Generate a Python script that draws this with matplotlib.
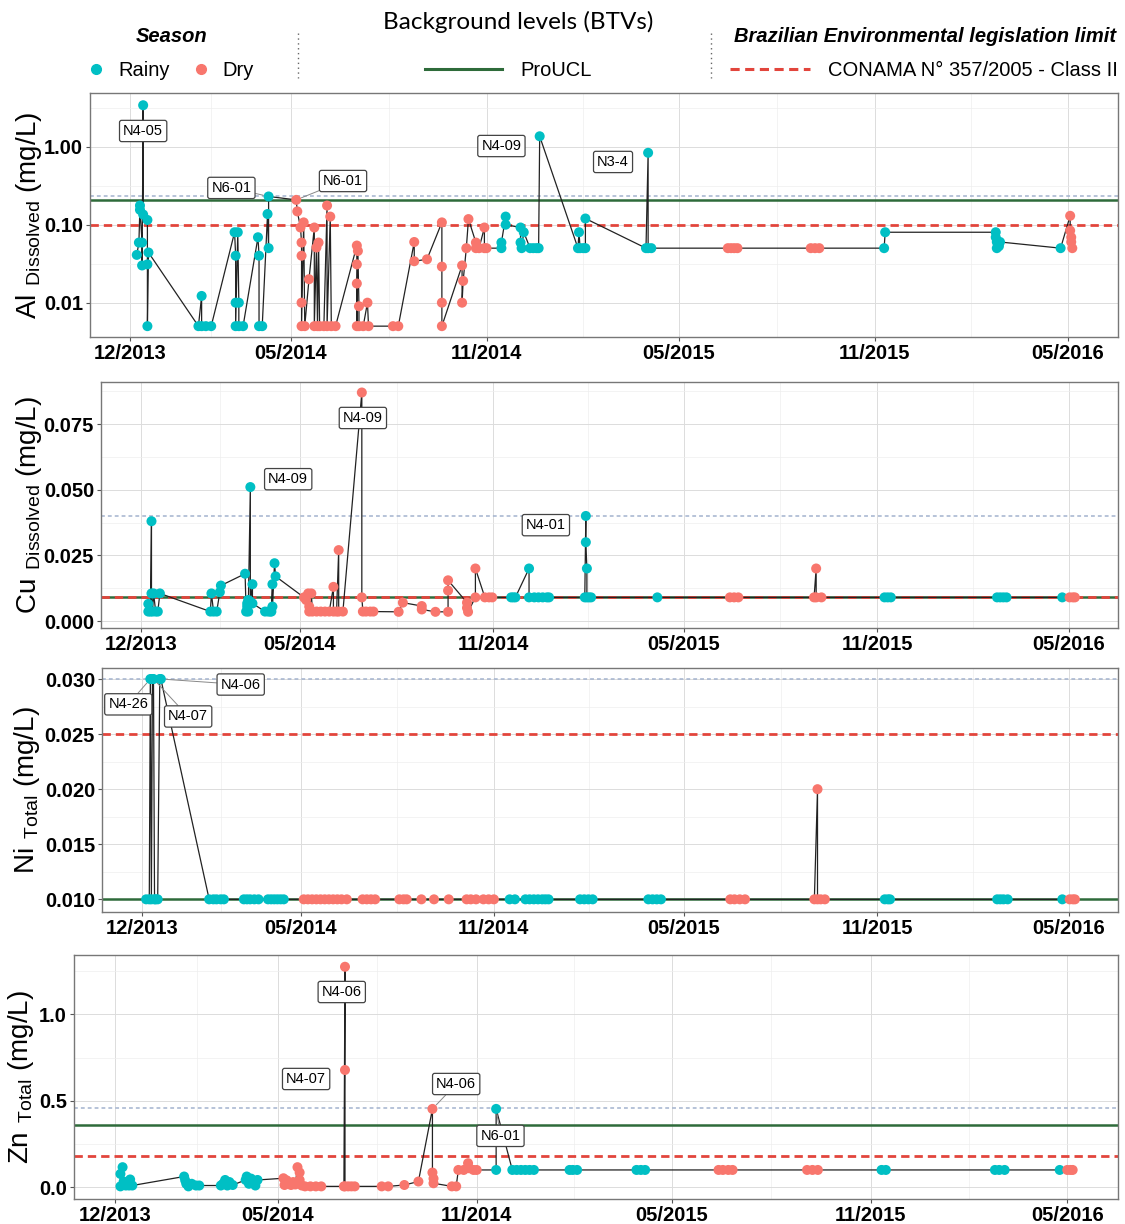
import numpy as np
import pandas as pd
import matplotlib
matplotlib.use("Agg")
import matplotlib.pyplot as plt
import matplotlib.dates as mdates
from matplotlib.lines import Line2D
from matplotlib.ticker import FixedLocator, NullFormatter

plt.rcParams['font.family'] = ['Liberation Sans', 'DejaVu Sans']
plt.rcParams['mathtext.default'] = 'regular'

RAINY = '#00BFC4'
DRY = '#F8766D'
GREEN = '#2E6B3A'
RED = '#E2453C'
BLUE = '#A3B3CE'

# ---------------- data ----------------
# Al dissolved (mg/L)
al_dates = ["2013-12-07", "2013-12-09", "2013-12-10", "2013-12-10", "2013-12-12", "2013-12-12",
            "2013-12-13", "2013-12-13", "2013-12-17", "2013-12-17", "2013-12-17", "2013-12-18",
            "2014-02-03", "2014-02-06", "2014-02-06", "2014-02-10", "2014-02-15",
            "2014-03-09", "2014-03-10", "2014-03-10", "2014-03-10", "2014-03-12", "2014-03-13",
            "2014-03-13", "2014-03-17", "2014-03-31", "2014-04-01", "2014-04-01", "2014-04-04",
            "2014-04-09", "2014-04-10", "2014-04-10",
            "2014-05-06", "2014-05-07", "2014-05-10", "2014-05-11", "2014-05-11", "2014-05-11",
            "2014-05-11", "2014-05-13", "2014-05-14", "2014-05-18", "2014-05-23", "2014-05-23",
            "2014-05-25", "2014-05-26", "2014-05-27", "2014-05-28", "2014-06-01", "2014-06-04",
            "2014-06-04", "2014-06-07", "2014-06-08", "2014-06-12", "2014-07-02", "2014-07-02",
            "2014-07-02", "2014-07-02", "2014-07-03", "2014-07-04", "2014-07-04", "2014-07-08",
            "2014-07-12", "2014-07-13", "2014-08-05", "2014-08-10", "2014-08-25", "2014-08-25",
            "2014-09-06", "2014-09-20", "2014-09-20", "2014-09-20", "2014-09-20", "2014-10-09",
            "2014-10-09", "2014-10-10", "2014-10-13", "2014-10-15", "2014-10-22", "2014-10-22",
            "2014-10-25", "2014-10-30", "2014-10-30", "2014-11-01",
            "2014-11-15", "2014-11-15", "2014-11-19", "2014-11-19", "2014-12-03", "2014-12-03",
            "2014-12-04", "2014-12-06", "2014-12-12", "2014-12-15", "2014-12-18", "2014-12-20",
            "2014-12-21", "2015-01-26", "2015-01-27", "2015-01-28", "2015-01-31", "2015-02-02",
            "2015-02-02", "2015-03-31", "2015-04-02", "2015-04-02", "2015-04-05",
            "2015-06-16", "2015-06-19", "2015-06-22", "2015-06-25", "2015-09-02", "2015-09-06",
            "2015-09-10",
            "2015-11-10", "2015-11-11", "2016-02-23", "2016-02-23", "2016-02-24", "2016-02-24",
            "2016-02-26", "2016-02-27", "2016-04-24",
            "2016-05-03", "2016-05-03", "2016-05-04", "2016-05-04", "2016-05-05"]
al_vals = [0.041, 0.059, 0.176, 0.155, 0.059, 0.030,
           3.40, 0.135, 0.115, 0.031, 0.005, 0.044,
           0.005, 0.0122, 0.005, 0.005, 0.005,
           0.080, 0.040, 0.010, 0.005, 0.080, 0.010,
           0.005, 0.005, 0.069, 0.040, 0.005, 0.005,
           0.137, 0.050, 0.230,
           0.208, 0.148, 0.092, 0.059, 0.040, 0.010,
           0.005, 0.107, 0.005, 0.020, 0.092, 0.005,
           0.051, 0.005, 0.059, 0.005, 0.005, 0.176,
           0.005, 0.127, 0.005, 0.005, 0.054, 0.031,
           0.0176, 0.005, 0.046, 0.009, 0.005, 0.005,
           0.010, 0.005, 0.005, 0.005, 0.060, 0.034,
           0.036, 0.107, 0.029, 0.010, 0.005, 0.030,
           0.010, 0.019, 0.050, 0.118, 0.059, 0.050,
           0.050, 0.092, 0.050, 0.050,
           0.050, 0.059, 0.127, 0.100, 0.092, 0.059,
           0.050, 0.080, 0.050, 0.050, 0.050, 0.050,
           1.36, 0.050, 0.080, 0.050, 0.050, 0.050,
           0.120, 0.050, 0.835, 0.050, 0.050,
           0.050, 0.050, 0.050, 0.050, 0.050, 0.050,
           0.050,
           0.050, 0.080, 0.080, 0.069, 0.060, 0.050,
           0.053, 0.060, 0.050,
           0.130, 0.084, 0.069, 0.060, 0.050]
al_season = ["Rainy"] * 32 + ["Dry"] * 52 + ["Rainy"] * 23 + ["Dry"] * 7 + ["Rainy"] * 9 + ["Dry"] * 5

# Cu dissolved (mg/L)
cu_dates = ["2013-12-08", "2013-12-08", "2013-12-10", "2013-12-11", "2013-12-11", "2013-12-12",
            "2013-12-13", "2013-12-15", "2013-12-17", "2013-12-19",
            "2014-02-05", "2014-02-06", "2014-02-08", "2014-02-11", "2014-02-14", "2014-02-15",
            "2014-03-10", "2014-03-11", "2014-03-12", "2014-03-12", "2014-03-13", "2014-03-13",
            "2014-03-15", "2014-03-15", "2014-03-17", "2014-03-17",
            "2014-03-29", "2014-04-01", "2014-04-03", "2014-04-04", "2014-04-05", "2014-04-05",
            "2014-04-07", "2014-04-08",
            "2014-05-05", "2014-05-07", "2014-05-09", "2014-05-10", "2014-05-10", "2014-05-12",
            "2014-05-13", "2014-05-17", "2014-05-21", "2014-05-25", "2014-05-29", "2014-06-02",
            "2014-06-02", "2014-06-05", "2014-06-07", "2014-06-07", "2014-06-11", "2014-06-29",
            "2014-06-29", "2014-06-30", "2014-07-03", "2014-07-07", "2014-07-10",
            "2014-08-03", "2014-08-07", "2014-08-25", "2014-08-25", "2014-09-07", "2014-09-19",
            "2014-09-19", "2014-09-19", "2014-10-07", "2014-10-07", "2014-10-08", "2014-10-15",
            "2014-10-15", "2014-10-24", "2014-10-28", "2014-10-31",
            "2014-11-18", "2014-11-20", "2014-11-22", "2014-12-05", "2014-12-05", "2014-12-10",
            "2014-12-14", "2014-12-18", "2014-12-22", "2014-12-24",
            "2015-01-27", "2015-01-28", "2015-01-28", "2015-01-29", "2015-01-29", "2015-01-31",
            "2015-02-02", "2015-04-06",
            "2015-06-14", "2015-06-18", "2015-06-22", "2015-09-02", "2015-09-04", "2015-09-04",
            "2015-09-09",
            "2015-11-08", "2015-11-11", "2015-11-14", "2016-02-23", "2016-02-26", "2016-02-29",
            "2016-03-03", "2016-04-25",
            "2016-05-02", "2016-05-05", "2016-05-07"]
cu_vals = [0.0065, 0.0036, 0.0036, 0.038, 0.0105, 0.0036,
           0.0105, 0.0036, 0.0036, 0.0105,
           0.0036, 0.0105, 0.0036, 0.0036, 0.011, 0.0135,
           0.018, 0.0036, 0.0055, 0.0067, 0.008, 0.0036,
           0.051, 0.0074, 0.014, 0.0067,
           0.0036, 0.0036, 0.0036, 0.0036, 0.014, 0.0055,
           0.022, 0.017,
           0.009, 0.008, 0.0105, 0.0055, 0.0036, 0.0105,
           0.0036, 0.0036, 0.0036, 0.0036, 0.0036, 0.013,
           0.0036, 0.0036, 0.027, 0.0036, 0.0036, 0.087,
           0.009, 0.0036, 0.0036, 0.0036, 0.0036,
           0.0035, 0.007, 0.0057, 0.0044, 0.0035, 0.0035,
           0.0116, 0.0155, 0.007, 0.005, 0.0035, 0.009,
           0.020, 0.009, 0.009, 0.009,
           0.009, 0.009, 0.009, 0.020, 0.009, 0.009,
           0.009, 0.009, 0.009, 0.009,
           0.009, 0.040, 0.030, 0.020, 0.009, 0.009,
           0.009, 0.009,
           0.009, 0.009, 0.009, 0.009, 0.020, 0.009,
           0.009,
           0.009, 0.009, 0.009, 0.009, 0.009, 0.009,
           0.009, 0.009,
           0.009, 0.009, 0.009]
cu_season = ["Rainy"] * 34 + ["Dry"] * 39 + ["Rainy"] * 18 + ["Dry"] * 7 + ["Rainy"] * 8 + ["Dry"] * 3

# Ni total (mg/L)
ni_dates = ["2013-12-05", "2013-12-08", "2013-12-09", "2013-12-10", "2013-12-11", "2013-12-12",
            "2013-12-13", "2013-12-14", "2013-12-16", "2013-12-18", "2013-12-19",
            "2014-02-03", "2014-02-07", "2014-02-10", "2014-02-14", "2014-02-17",
            "2014-03-08", "2014-03-11", "2014-03-14", "2014-03-18", "2014-03-22",
            "2014-03-31", "2014-04-03", "2014-04-06", "2014-04-09", "2014-04-12", "2014-04-15",
            "2014-05-04", "2014-05-08", "2014-05-12", "2014-05-16", "2014-05-20", "2014-05-24",
            "2014-05-28", "2014-06-01", "2014-06-05", "2014-06-09", "2014-06-14",
            "2014-06-29", "2014-07-03", "2014-07-07", "2014-07-11", "2014-08-03", "2014-08-07",
            "2014-08-10", "2014-08-24", "2014-09-05", "2014-09-19", "2014-10-06", "2014-10-10",
            "2014-10-15", "2014-10-22", "2014-10-27", "2014-11-01",
            "2014-11-16", "2014-11-21", "2014-12-01", "2014-12-05", "2014-12-09", "2014-12-13",
            "2014-12-17", "2014-12-20", "2014-12-23",
            "2015-01-22", "2015-01-26", "2015-01-30", "2015-02-03", "2015-03-28", "2015-04-01",
            "2015-04-05", "2015-04-09",
            "2015-06-14", "2015-06-18", "2015-06-23", "2015-06-28", "2015-09-02", "2015-09-05",
            "2015-09-05", "2015-09-08", "2015-09-12",
            "2015-11-08", "2015-11-11", "2015-11-13", "2016-02-23", "2016-02-26", "2016-02-29",
            "2016-03-04", "2016-04-25",
            "2016-05-02", "2016-05-05", "2016-05-07"]
ni_vals = [0.010, 0.010, 0.030, 0.010, 0.030, 0.030,
           0.010, 0.010, 0.010, 0.030, 0.030,
           0.010, 0.010, 0.010, 0.010, 0.010,
           0.010, 0.010, 0.010, 0.010, 0.010,
           0.010, 0.010, 0.010, 0.010, 0.010, 0.010,
           0.010, 0.010, 0.010, 0.010, 0.010, 0.010,
           0.010, 0.010, 0.010, 0.010, 0.010,
           0.010, 0.010, 0.010, 0.010, 0.010, 0.010,
           0.010, 0.010, 0.010, 0.010, 0.010, 0.010,
           0.010, 0.010, 0.010, 0.010,
           0.010, 0.010, 0.010, 0.010, 0.010, 0.010,
           0.010, 0.010, 0.010,
           0.010, 0.010, 0.010, 0.010, 0.010, 0.010,
           0.010, 0.010,
           0.010, 0.010, 0.010, 0.010, 0.010, 0.020,
           0.010, 0.010, 0.010,
           0.010, 0.010, 0.010, 0.010, 0.010, 0.010,
           0.010, 0.010,
           0.010, 0.010, 0.010]
ni_season = ["Rainy"] * 27 + ["Dry"] * 27 + ["Rainy"] * 17 + ["Dry"] * 9 + ["Rainy"] * 8 + ["Dry"] * 3

# Zn total (mg/L)
zn_dates = ["2013-12-06", "2013-12-06", "2013-12-08", "2013-12-09", "2013-12-11", "2013-12-14",
            "2013-12-15", "2013-12-17",
            "2014-02-03", "2014-02-04", "2014-02-05", "2014-02-07", "2014-02-10", "2014-02-14",
            "2014-02-17", "2014-03-09", "2014-03-11", "2014-03-13", "2014-03-15", "2014-03-17",
            "2014-03-20", "2014-04-01", "2014-04-02", "2014-04-04", "2014-04-06", "2014-04-08",
            "2014-04-10", "2014-04-12",
            "2014-05-06", "2014-05-07", "2014-05-09", "2014-05-11", "2014-05-13", "2014-05-15",
            "2014-05-17", "2014-05-19", "2014-05-21", "2014-05-21", "2014-05-23", "2014-05-26",
            "2014-05-31", "2014-06-05", "2014-06-10", "2014-07-01", "2014-07-02", "2014-07-02",
            "2014-07-02", "2014-07-05", "2014-07-08", "2014-07-11", "2014-08-05", "2014-08-11",
            "2014-08-26", "2014-09-08", "2014-09-21", "2014-09-21", "2014-09-22", "2014-09-22",
            "2014-10-09", "2014-10-13", "2014-10-15", "2014-10-20", "2014-10-24", "2014-10-25",
            "2014-10-29", "2014-11-01",
            "2014-11-19", "2014-11-19", "2014-12-04", "2014-12-08", "2014-12-12", "2014-12-16",
            "2014-12-20", "2014-12-24", "2015-01-26", "2015-01-29", "2015-02-02", "2015-03-29",
            "2015-04-02", "2015-04-06",
            "2015-06-13", "2015-06-17", "2015-06-22", "2015-06-26", "2015-09-03", "2015-09-08",
            "2015-09-13",
            "2015-11-11", "2015-11-15", "2016-02-24", "2016-02-28", "2016-03-04", "2016-04-24",
            "2016-05-01", "2016-05-04", "2016-05-06"]
zn_vals = [0.005, 0.077, 0.116, 0.033, 0.010, 0.010,
           0.045, 0.010,
           0.062, 0.040, 0.020, 0.005, 0.020, 0.010,
           0.010, 0.010, 0.020, 0.042, 0.010, 0.030,
           0.013, 0.042, 0.062, 0.020, 0.050, 0.030,
           0.010, 0.042,
           0.052, 0.013, 0.040, 0.020, 0.013, 0.030,
           0.016, 0.116, 0.085, 0.042, 0.010, 0.005,
           0.005, 0.005, 0.005, 0.005, 1.275, 0.678,
           0.005, 0.005, 0.005, 0.005, 0.005, 0.005,
           0.013, 0.033, 0.453, 0.085, 0.050, 0.023,
           0.005, 0.005, 0.100, 0.100, 0.139, 0.110,
           0.100, 0.100,
           0.100, 0.453, 0.100, 0.100, 0.100, 0.100,
           0.100, 0.100, 0.100, 0.100, 0.100, 0.100,
           0.100, 0.100,
           0.100, 0.100, 0.100, 0.100, 0.100, 0.100,
           0.100,
           0.100, 0.100, 0.100, 0.100, 0.100, 0.100,
           0.100, 0.100, 0.100]
zn_season = ["Rainy"] * 28 + ["Dry"] * 38 + ["Rainy"] * 14 + ["Dry"] * 7 + ["Rainy"] * 6 + ["Dry"] * 3

# reference levels: BTV (other), ProUCL BTV, CONAMA 357/2005 class II
al_limits = (0.235, 0.205, 0.10)
cu_limits = (0.040, 0.009, 0.009)
ni_limits = (0.030, 0.010, 0.025)
zn_limits = (0.46, 0.36, 0.18)

# labelled samples: (text, date, value)
al_notes = [("N4-05", "2013-12-13", 3.40), ("N6-01", "2014-04-10", 0.230),
            ("N6-01", "2014-05-06", 0.208), ("N4-09", "2014-12-21", 1.36),
            ("N3-4", "2015-04-02", 0.835)]
cu_notes = [("N4-09", "2014-06-29", 0.087), ("N4-09", "2014-03-15", 0.051),
            ("N4-01", "2015-01-28", 0.040)]
ni_notes = [("N4-26", "2013-12-09", 0.030), ("N4-07", "2013-12-12", 0.030),
            ("N4-06", "2013-12-19", 0.030)]
zn_notes = [("N4-06", "2014-07-02", 1.275), ("N4-07", "2014-07-02", 0.678),
            ("N4-06", "2014-09-21", 0.453), ("N6-01", "2014-11-19", 0.453)]

# where the label boxes sit (date, value) and whether a leader segment shows
al_note_pos = [("2013-12-13", 1.59, False), ("2014-03-06", 0.296, True),
               ("2014-06-19", 0.363, True), ("2014-11-15", 1.02, False),
               ("2015-02-28", 0.637, False)]
cu_note_pos = [("2014-06-30", 0.0773, False), ("2014-04-20", 0.054, False),
               ("2014-12-21", 0.0365, False)]
ni_note_pos = [("2013-11-18", 0.0277, True), ("2014-01-14", 0.0266, True),
               ("2014-03-05", 0.0295, True)]
zn_note_pos = [("2014-06-29", 1.129, False), ("2014-05-27", 0.626, False),
               ("2014-10-13", 0.597, True), ("2014-11-23", 0.297, True)]

major_dates = pd.to_datetime(["2013-12-01", "2014-05-01", "2014-11-01",
                              "2015-05-01", "2015-11-01", "2016-05-01"])
x_min, x_max = pd.Timestamp("2013-10-24"), pd.Timestamp("2016-06-17")

W, H = 1125, 1224
fig = plt.figure(figsize=(W / 100, H / 100), dpi=100)


def fx(x):
    return x / W


def fy(y):
    return 1 - y / H


def panel(box, label_x, dates, vals, season, limits, notes, note_pos, ylabel, ylim,
          yticks, yticklabels, yminor, log=False):
    left, top, right, bottom = box
    ax = fig.add_axes([fx(left), fy(bottom), (right - left) / W, (bottom - top) / H])
    df = pd.DataFrame({"date": pd.to_datetime(dates), "val": vals, "season": season})
    df = df.sort_values("date", kind="stable")

    if log:
        ax.set_yscale("log")
    ax.set_xlim(x_min, x_max)
    ax.set_ylim(*ylim)

    # grid like ggplot theme_bw
    ax.xaxis.set_major_locator(FixedLocator(mdates.date2num(major_dates)))
    ax.xaxis.set_major_formatter(mdates.DateFormatter("%m/%Y"))
    mids = mdates.date2num(major_dates[:-1]) + np.diff(mdates.date2num(major_dates)) / 2
    ax.xaxis.set_minor_locator(FixedLocator(mids))
    ax.yaxis.set_major_locator(FixedLocator(yticks))
    ax.set_yticklabels(yticklabels)
    ax.yaxis.set_minor_locator(FixedLocator(yminor))
    ax.yaxis.set_minor_formatter(NullFormatter())
    ax.grid(which="major", color="#DCDCDC", lw=0.7, zorder=0)
    ax.grid(which="minor", color="#EEEEEE", lw=0.5, zorder=0)
    ax.set_axisbelow(True)
    ax.tick_params(which="minor", length=0)
    ax.tick_params(which="major", length=3, width=0.8, color="#555555", pad=2,
                   labelsize=14.5)
    for lab in ax.get_xticklabels() + ax.get_yticklabels():
        lab.set_fontweight("bold")
    for sp in ax.spines.values():
        sp.set_color("#777777")
        sp.set_linewidth(1.0)

    blue, green, red = limits
    ax.axhline(blue, color=BLUE, lw=1.1, ls=(0, (2.5, 2)), zorder=1)
    ax.axhline(green, color=GREEN, lw=1.8, zorder=1.2)
    ax.axhline(red, color=RED, lw=2.0, ls=(0, (3, 1.8)), zorder=1.3)

    ax.plot(df["date"], df["val"], color="#222222", lw=0.9, zorder=2)
    for name, col in (("Rainy", RAINY), ("Dry", DRY)):
        sub = df[df["season"] == name]
        ax.scatter(sub["date"], sub["val"], s=52, color=col, edgecolors="none", zorder=3)

    for (txt, d, v), (ld, lv, seg) in zip(notes, note_pos):
        ax.annotate(txt, xy=(mdates.date2num(pd.Timestamp(d)), v),
                    xytext=(mdates.date2num(pd.Timestamp(ld)), lv), textcoords="data",
                    ha="center", va="center", fontsize=10.5, zorder=5,
                    bbox=dict(boxstyle="round,pad=0.25,rounding_size=0.15", fc="white",
                              ec="#444444", lw=0.9),
                    arrowprops=dict(arrowstyle="-", color="#888888", lw=0.7,
                                    shrinkA=0, shrinkB=4) if seg else None)

    ax.set_ylabel(ylabel, fontsize=20)
    ax.yaxis.set_label_coords((label_x - left) / (right - left), 0.5)
    return ax


panel((90, 93, 1118, 337), 44, al_dates, al_vals, al_season, al_limits, al_notes, al_note_pos,
      r"Al$\ _{Dissolved}$ (mg/L)", (0.00363, 4.88),
      [0.01, 0.1, 1.0], ["0.01", "0.10", "1.00"], [10 ** -2.5, 10 ** -1.5, 10 ** -0.5, 10 ** 0.5],
      log=True)
panel((101, 382, 1118, 628), 44, cu_dates, cu_vals, cu_season, cu_limits, cu_notes, cu_note_pos,
      r"Cu$\ _{Dissolved}$ (mg/L)", (-0.00266, 0.0910),
      [0, 0.025, 0.05, 0.075], ["0.000", "0.025", "0.050", "0.075"],
      [0.0125, 0.0375, 0.0625, 0.0875])
panel((102, 668, 1118, 912), 42, ni_dates, ni_vals, ni_season, ni_limits, ni_notes, ni_note_pos,
      r"Ni$\ _{Total}$ (mg/L)", (0.00885, 0.0310),
      [0.010, 0.015, 0.020, 0.025, 0.030], ["0.010", "0.015", "0.020", "0.025", "0.030"],
      [0.0125, 0.0175, 0.0225, 0.0275])
panel((74, 955, 1118, 1199), 36, zn_dates, zn_vals, zn_season, zn_limits, zn_notes, zn_note_pos,
      r"Zn$\ _{Total}$ (mg/L)", (-0.068, 1.343),
      [0.0, 0.5, 1.0], ["0.0", "0.5", "1.0"], [0.25, 0.75, 1.25])

# ---------------- legend strip ----------------
fig.text(fx(518), fy(22), "Background levels (BTVs)", ha="center", va="center",
         fontsize=17.5, family=["Lato", "DejaVu Sans"])
fig.text(fx(172), fy(37), "Season", ha="center", va="center", fontsize=14.5,
         fontweight="bold", style="italic")
fig.add_artist(Line2D([fx(96)], [fy(69)], marker="o", ms=7, color=RAINY, ls="none"))
fig.text(fx(118), fy(69), "Rainy", va="center_baseline", fontsize=14.5)
fig.add_artist(Line2D([fx(201)], [fy(69)], marker="o", ms=7, color=DRY, ls="none"))
fig.text(fx(222), fy(69), "Dry", va="center_baseline", fontsize=14.5)
for sx in (298, 711):
    fig.add_artist(Line2D([fx(sx), fx(sx)], [fy(33), fy(78)], color="#666666", lw=1,
                          ls=(0, (1, 2.5))))
fig.add_artist(Line2D([fx(425), fx(502)], [fy(69), fy(69)], color=GREEN, lw=2.2))
fig.text(fx(520), fy(69), "ProUCL", va="center_baseline", fontsize=14.5)
fig.text(fx(925), fy(37), "Brazilian Environmental legislation limit", ha="center",
         va="center", fontsize=14.5, fontweight="bold", style="italic")
fig.add_artist(Line2D([fx(730), fx(810)], [fy(69), fy(69)], color=RED, lw=2.2,
                      ls=(0, (3, 1.8))))
fig.text(fx(828), fy(69), "CONAMA N° 357/2005 - Class II", va="center_baseline",
         fontsize=14.5)

fig.savefig("out.png", dpi=100)
